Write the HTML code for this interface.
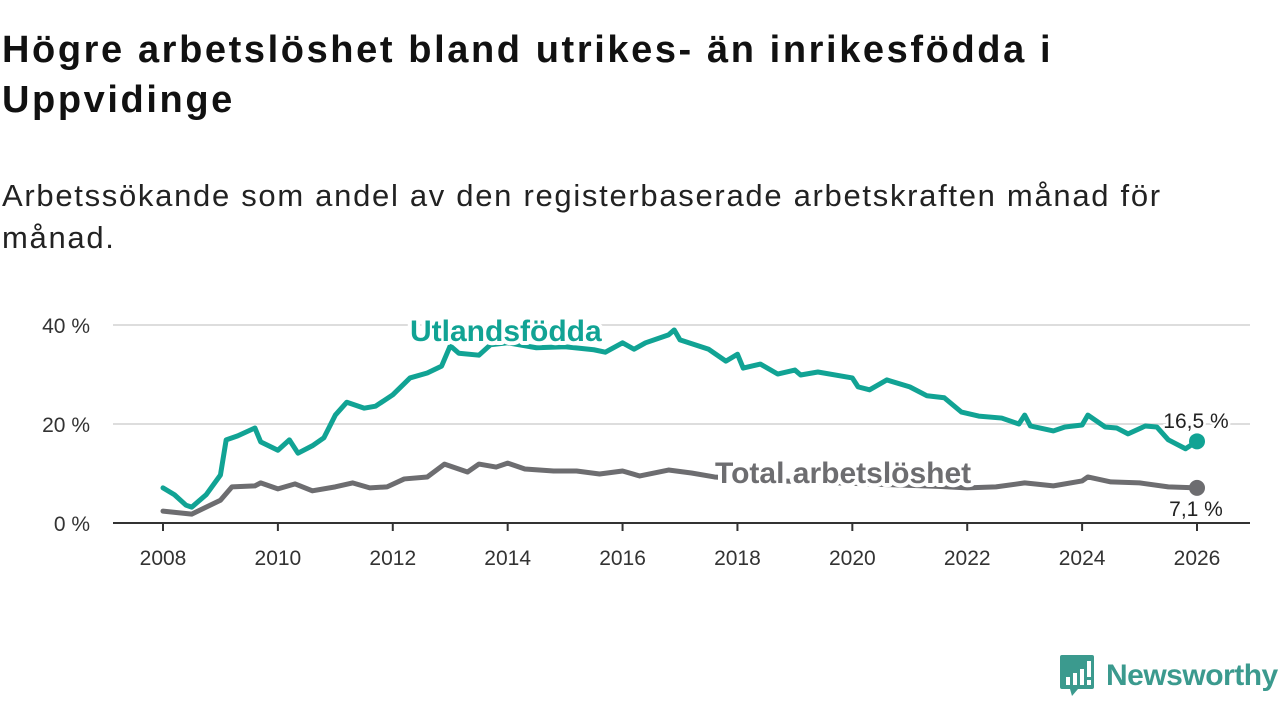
<!DOCTYPE html>
<html><head><meta charset="utf-8">
<style>
body{margin:0;width:1280px;height:720px;background:#fff;font-family:"Liberation Sans",sans-serif;overflow:hidden;position:relative}
h1{position:absolute;left:2px;top:25px;margin:0;font-size:38px;line-height:50px;font-weight:bold;color:#111;width:1270px;white-space:nowrap;letter-spacing:2.6px}
.sub{position:absolute;left:2px;top:175px;font-size:31px;line-height:42px;color:#222;width:1270px;letter-spacing:1.7px;white-space:nowrap}
svg{position:absolute;left:0;top:0}
.logo{position:absolute;left:1060px;top:655px;display:flex;align-items:center}
.logo span{font-size:30px;font-weight:bold;color:#3b9a8e;margin-left:12px;letter-spacing:-0.5px}
</style></head><body>
<h1>Högre arbetslöshet bland utrikes- än inrikesfödda i<br>Uppvidinge</h1>
<div class="sub">Arbetssökande som andel av den registerbaserade arbetskraften månad för<br>månad.</div>
<svg id="chart" width="1280" height="720"></svg>
<div class="logo">
<svg width="34" height="42" viewBox="0 0 34 42" style="position:static"><path d="M0 2 Q0 0 2 0 H32 Q34 0 34 2 V32 Q34 34 32 34 H18 L12 41 L10 34 H2 Q0 34 0 32Z" fill="#3b9a8e"/><rect x="6" y="22" width="4" height="8" fill="#fff"/><rect x="13" y="18" width="4" height="12" fill="#fff"/><rect x="20" y="14" width="4" height="16" fill="#fff"/><rect x="27" y="6" width="4" height="16" fill="#fff"/><rect x="27" y="25" width="4" height="5" fill="#fff"/></svg>
<span>Newsworthy</span></div>
<script>
const foreignYears=[2008,2008.2,2008.4,2008.5,2008.75,2009,2009.1,2009.3,2009.6,2009.7,2010,2010.2,2010.35,2010.6,2010.8,2011,2011.2,2011.5,2011.7,2012,2012.3,2012.6,2012.85,2013,2013.15,2013.5,2013.7,2014,2014.5,2015,2015.5,2015.7,2016,2016.2,2016.4,2016.8,2016.9,2017,2017.5,2017.8,2018,2018.1,2018.4,2018.7,2019,2019.1,2019.4,2020,2020.1,2020.3,2020.6,2021,2021.3,2021.6,2021.9,2022.2,2022.6,2022.9,2023,2023.1,2023.5,2023.7,2024,2024.1,2024.4,2024.6,2024.8,2025.1,2025.3,2025.5,2025.8,2026];
const foreignValues=[7.1,5.7,3.6,3.2,5.7,9.7,16.8,17.6,19.2,16.4,14.7,16.8,14.1,15.6,17.2,21.8,24.4,23.2,23.6,25.9,29.3,30.3,31.7,35.8,34.3,33.9,36,36.4,35.4,35.6,35,34.5,36.4,35.1,36.4,38,39,37,35.1,32.7,34.1,31.3,32.1,30.1,30.9,29.9,30.5,29.3,27.5,26.9,28.9,27.5,25.7,25.3,22.4,21.6,21.2,20,21.8,19.6,18.6,19.4,19.8,21.8,19.4,19.2,18,19.6,19.4,16.8,15,16.5];
const totalYears=[2008,2008.5,2009,2009.2,2009.6,2009.7,2010,2010.3,2010.6,2011,2011.3,2011.6,2011.9,2012.2,2012.6,2012.9,2013.3,2013.5,2013.8,2014,2014.3,2014.8,2015.2,2015.6,2016,2016.3,2016.8,2017.2,2017.6,2018.5,2019.5,2020.5,2021.5,2022,2022.5,2023,2023.5,2024,2024.1,2024.5,2025,2025.5,2026];
const totalValues=[2.4,1.8,4.6,7.3,7.5,8.1,6.9,7.9,6.5,7.3,8.1,7.1,7.3,8.9,9.3,11.9,10.3,11.9,11.3,12.1,10.9,10.5,10.5,9.9,10.5,9.5,10.7,10.1,9.3,8.6,8.2,7.8,7.4,7.1,7.3,8.1,7.5,8.5,9.3,8.3,8.1,7.3,7.1];
const yTicks=[0,20,40];
const xTicks=[2008,2010,2012,2014,2016,2018,2020,2022,2024,2026];
const NS="http://www.w3.org/2000/svg";
const svg=document.getElementById('chart');
const x=v=>163+(v-2008)*(1197-163)/18;
const y=v=>523-v*(523-325)/40;
function mk(t,a){const e=document.createElementNS(NS,t);for(const k in a)e.setAttribute(k,a[k]);svg.appendChild(e);return e;}
yTicks.forEach(t=>{
 if(t>0){const g=mk('line',{x1:113,x2:1250,y1:y(t),y2:y(t),stroke:'#ddd','stroke-width':2});
 
 }
 const l=mk('text',{x:90,y:y(t)+8,'text-anchor':'end','font-size':21,fill:'#333','font-family':'Liberation Sans'});
 l.textContent=t+' %';
 
 
});
const ax=mk('line',{x1:113,x2:1250,y1:523,y2:523,stroke:'#333','stroke-width':2});


xTicks.forEach(t=>{
 const tk=mk('line',{x1:x(t),x2:x(t),y1:523,y2:531,stroke:'#333','stroke-width':2});
 
 
 const l=mk('text',{x:x(t),y:565,'text-anchor':'middle','font-size':21,fill:'#333','font-family':'Liberation Sans'});
 l.textContent=t;
 
 
});
function line(xs,vs,col,name){
 const p=mk('polyline',{points:xs.map((v,i)=>x(v)+','+y(vs[i])).join(' '),fill:'none',stroke:col,'stroke-width':5,'stroke-linejoin':'round','stroke-linecap':'round'});
 
 
 const n=xs.length-1;
 const c=mk('circle',{cx:x(xs[n]),cy:y(vs[n]),r:8,fill:col});
 
 
}
line(totalYears,totalValues,'#6d6d70','total-line');
line(foreignYears,foreignValues,'#11a394','foreign-born-line');
function label(txt,xp,yp,col,size,bold,anchor,name){
 const t=mk('text',{x:xp,y:yp,'font-size':size,fill:col,'font-weight':bold?'bold':'normal','text-anchor':anchor,'font-family':'Liberation Sans',stroke:'#fff','stroke-width':bold?8:5,'paint-order':'stroke','stroke-linejoin':'round'});
 t.textContent=txt;
 
 
}
label('Utlandsfödda',410,341,'#11a394',30,true,'start','foreign-born-label');
label('Total arbetslöshet',715,483,'#6d6d70',30,true,'start','total-label');
label('16,5 %',1196,428,'#222',21,false,'middle','foreign-born-end-value');
label('7,1 %',1196,516,'#222',21,false,'middle','total-end-value');
</script>
</body></html>
